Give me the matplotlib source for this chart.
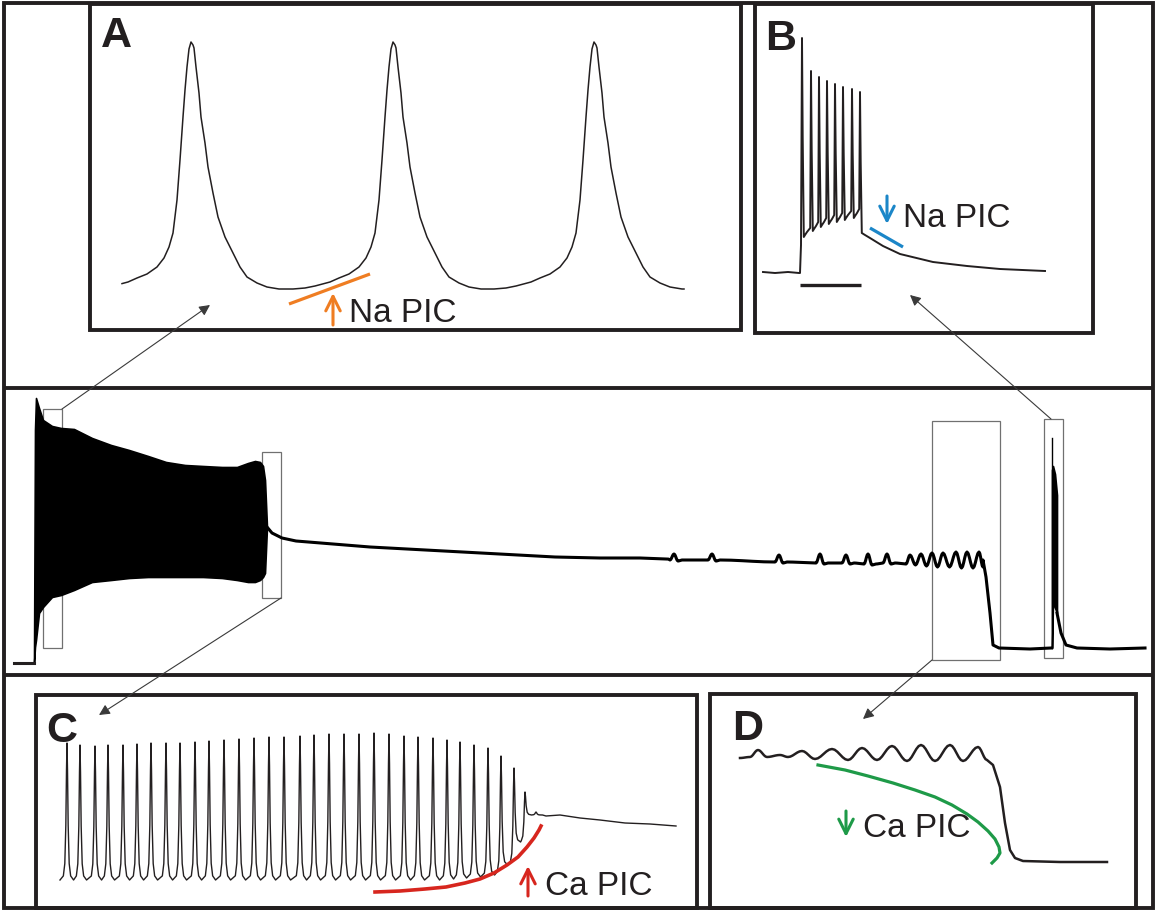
import numpy as np
import matplotlib.pyplot as plt
from matplotlib.patches import Rectangle

plt.rcParams['font.family'] = ['Liberation Sans', 'DejaVu Sans']

# --- trace data (figure pixel units, y downwards) ---

# A: three slow spikes, one spike shape re-used at each peak
a_peak_x = [191, 393, 594]
a_shape_dx = [-100, -88, -78, -63, -54, -44, -34, -27, -22, -18, -14, -11, -8, -6, -4, -2, 0,
              2, 3, 5, 8, 10, 14, 17, 22, 27, 34, 42, 49, 56, 66, 76, 88, 100]
a_shape_y = [289, 288, 286, 282, 278, 274, 267, 258, 247, 233, 200, 160, 117, 90, 67, 49, 42,
             45, 48, 67, 93, 117, 143, 167, 193, 217, 237, 253, 267, 277, 283, 287, 289, 289]
a_start, a_end = 122, 684

# B: step-evoked burst then slow decay
b_base_x = [763, 775, 788, 799]
b_base_y = [272, 273, 272, 273]
b_spike_x = [802, 811, 819, 827, 835, 843, 852, 860]
b_spike_peak = [38, 71, 77, 81, 84, 87, 89, 92]
b_trough = [237, 231, 227, 224, 222, 220, 218, 233]
b_decay_x = [865, 870, 883, 900, 933, 967, 1000, 1045]
b_decay_y = [235, 238, 246, 254, 262, 266, 269, 271]

# main recording: dense firing envelope, plateau, ripples, second burst
burst_x = [34, 35, 36, 39, 43, 52, 61, 74, 92, 111, 129, 148, 166, 185, 203, 222, 237, 248, 255, 260, 263, 265, 267]
burst_top = [663, 430, 398, 408, 420, 426, 428, 429, 438, 445, 450, 456, 462, 465, 466, 467, 467, 463, 461, 462, 466, 480, 527]
burst_bot = [663, 647, 640, 613, 607, 597, 595, 590, 582, 580, 578, 577, 577, 577, 577, 578, 580, 582, 582, 580, 577, 573, 527]
base_x = [14, 34]
base_y = [663, 663]
plateau_x = [267, 272, 282, 296, 333, 370, 407, 444, 481, 518, 555, 600, 640, 668]
plateau_y = [527, 533, 538, 541, 544, 547, 549, 551, 553, 555, 557, 558, 558, 559]
rip_x = [674, 712, 779, 820, 846, 868, 887, 910, 921, 932, 943, 956, 967, 979]
rip_top = [554, 554, 555, 554, 555, 554, 554, 555, 554, 553, 553, 552, 552, 552]
rip_bot = [561, 561, 563, 564, 564, 565, 564, 565, 566, 567, 567, 568, 568, 567]
drop_x = [983, 986, 990, 993, 999, 1030, 1051]
drop_y = [560, 577, 613, 645, 648, 649, 648]
burst2_x = [1052, 1053, 1055, 1057]
burst2_top = [470, 466, 474, 495]
burst2_bot = [648, 602, 608, 613]
burst2_spike = 438
decay2_x = [1057, 1061, 1066, 1077, 1110, 1145]
decay2_y = [613, 633, 645, 648, 649, 648]

# C: end of the firing (zoom of main), peaks shrink as Ca PIC ends
c_spike_x = [67, 80, 95, 108, 123, 137, 151, 166, 180, 195, 209, 224, 239, 254, 269, 284, 300,
             314, 329, 344, 359, 374, 389, 404, 418, 433, 447, 460, 474, 488, 501, 514, 525, 536]
c_spike_peak = [743, 745, 746, 745, 745, 744, 743, 743, 743, 742, 741, 740, 739, 738, 737, 737, 736,
                735, 734, 734, 734, 733, 734, 736, 737, 738, 740, 742, 745, 748, 756, 768, 792, 812]
c_trough = [880] * 26 + [879, 878, 877, 875, 865, 842, 815, 815]
c_start = (60, 880)
c_tail_x = [546, 560, 580, 600, 625, 650, 676]
c_tail_y = [816, 815, 818, 820, 823, 824, 826]

# D: ripples (alternating extrema) then the fall
d_rip_x = [740, 750, 758, 767, 780, 788, 802, 815, 832, 848, 862, 877, 892, 907, 921, 935, 950, 963, 978, 987]
d_rip_y = [758, 757, 750, 757, 755, 757, 751, 759, 749, 760, 748, 760, 746, 761, 745, 761, 745, 761, 747, 760]
d_fall_x = [993, 1000, 1005, 1010, 1015, 1023, 1060, 1107]
d_fall_y = [765, 787, 823, 850, 858, 861, 862, 862]

# PIC marker curves
red_x = [375, 400, 425, 446, 465, 480, 494, 507, 518, 527, 534, 539, 541]
red_y = [892, 891, 889, 887, 883, 879, 873, 865, 857, 847, 838, 830, 826]
green_x = [818, 845, 868, 893, 915, 935, 952, 967, 978, 988, 995, 999, 1000, 997, 992]
green_y = [765, 770, 776, 783, 790, 797, 805, 814, 822, 831, 839, 847, 853, 858, 863]

INK = '#231f20'
ORANGE = '#ef7d22'
BLUE = '#1b86c8'
RED = '#d7261e'
GREEN = '#1e9a48'


def rounded(xs, ys, n=6):
    # join successive extrema with half-cosine segments so peaks/troughs look rounded
    ox, oy = [xs[0]], [ys[0]]
    for x0, y0, x1, y1 in zip(xs[:-1], ys[:-1], xs[1:], ys[1:]):
        t = np.linspace(0, 1, n + 1)[1:]
        ox += list(x0 + (x1 - x0) * t)
        oy += list(y0 + (y1 - y0) * (1 - np.cos(np.pi * t)) / 2)
    return ox, oy


W, H = 1155, 911
fig = plt.figure(figsize=(W / 100, H / 100), dpi=100)
ax = fig.add_axes([0, 0, 1, 1])
ax.set_xlim(0, W)
ax.set_ylim(H, 0)
ax.axis('off')

# frames
for x0, y0, x1, y1 in [(4, 3, 1153, 908), (90, 4, 741, 330), (755, 4, 1093, 333),
                       (36, 695, 697, 908), (710, 694, 1136, 908)]:
    ax.add_patch(Rectangle((x0, y0), x1 - x0, y1 - y0, fill=False, ec=INK, lw=2.8))
for yy in [388, 675]:
    ax.plot([4, 1153], [yy, yy], color=INK, lw=2.8, solid_capstyle='butt')

# zoom boxes in the main trace
for x0, y0, x1, y1 in [(43, 409, 62, 648), (262, 452, 281, 598), (932, 421, 1000, 660), (1044, 419, 1063, 658)]:
    ax.add_patch(Rectangle((x0, y0), x1 - x0, y1 - y0, fill=False, ec='#707070', lw=0.9))

# connectors
for tail, tip in [((62, 409), (210, 305)), ((1051, 419), (910, 295)),
                  ((281, 598), (99, 715)), ((932, 660), (863, 719))]:
    ax.annotate('', xy=tip, xytext=tail,
                arrowprops=dict(arrowstyle='-|>', color='#3a3a3a', lw=0.8, mutation_scale=16,
                                shrinkA=0, shrinkB=0))

# --- A ---
ax_x, ax_y = [], []
for p in a_peak_x:
    ax_x += [p + d for d in a_shape_dx]
    ax_y += a_shape_y
ax_x, ax_y = np.array(ax_x), np.array(ax_y)
keep = (ax_x > a_start) & (ax_x < a_end)
ax.plot(np.r_[a_start, ax_x[keep], a_end],
        np.r_[np.interp(a_start, ax_x, ax_y), ax_y[keep], np.interp(a_end, ax_x, ax_y)],
        color=INK, lw=1.1, solid_joinstyle='round')

# --- B ---
bx, by = list(b_base_x) + [800, 801], list(b_base_y) + [273, 245]
prev = 240
for i, (x, p) in enumerate(zip(b_spike_x, b_spike_peak)):
    if i > 0:
        bx += [b_spike_x[i - 1] + 3, b_spike_x[i - 1] + 5, x - 0.8]
        by += [prev - 2, prev - 5, prev - 9]
    tr = b_trough[i]
    bx += [x, x + 0.7, x + 1.8]
    by += [p, (p + tr) / 2, tr]
    prev = tr
bx += b_decay_x
by += b_decay_y
ax.plot(bx, by, color=INK, lw=1.4)
ax.plot([800, 861], [285, 285], color=INK, lw=2.4, solid_capstyle='butt')

# --- main recording ---
ax.plot(base_x, base_y, color=INK, lw=2.2)
ax.fill_between(burst_x, burst_top, burst_bot, color='black', lw=1.2, edgecolor='black')
ex, ey = [plateau_x[-1]], [plateau_y[-1]]
for i, (x, t, b) in enumerate(zip(rip_x, rip_top, rip_bot)):
    isolated = i == 0 or x - rip_x[i - 1] > 15
    if isolated:
        ex.append(x - 4)
        ey.append(b - 1)
    ex += [x, x + 4 if (i == len(rip_x) - 1 or rip_x[i + 1] - x > 15) else (x + rip_x[i + 1]) / 2]
    ey += [t, b]
    if i < len(rip_x) - 1 and rip_x[i + 1] - x > 15:
        ex.append(x + 8)
        ey.append(b - 1)
rx, ry = rounded(ex, ey, 5)
mx = list(plateau_x) + rx[1:] + drop_x
my = list(plateau_y) + ry[1:] + drop_y
ax.plot(mx, my, color='black', lw=2.2, solid_joinstyle='round')
ax.fill_between(burst2_x, burst2_top, burst2_bot, color='black', lw=1.2, edgecolor='black')
ax.plot([burst2_x[0], burst2_x[0]], [burst2_bot[0], burst2_spike], color='black', lw=1.0)
ax.plot(decay2_x, decay2_y, color='black', lw=2.2)

# --- C ---
rise = [(-0.5, 0.03), (-0.3, 0.12), (-0.16, 0.4), (-0.07, 0.8)]
fall = [(0.07, 0.8), (0.16, 0.4), (0.3, 0.12), (0.5, 0.03)]
half = 7.3
cx, cy = [c_start[0]], [c_start[1]]
before = c_start[1]
for i, (x, p) in enumerate(zip(c_spike_x, c_spike_peak)):
    after = c_trough[i]
    for f, h in rise:
        cx.append(x + f * half)
        cy.append(before - h * (before - p))
    cx.append(x)
    cy.append(p)
    for f, h in fall:
        cx.append(x + f * half)
        cy.append(after - h * (after - p))
    cx.append(x + 0.9 * half)
    cy.append(after)
    before = after
cx += c_tail_x
cy += c_tail_y
ax.plot(cx, cy, color=INK, lw=1.0)

# --- D ---
dx_, dy_ = rounded(d_rip_x, d_rip_y, 6)
ax.plot(dx_ + d_fall_x, dy_ + d_fall_y, color=INK, lw=1.8, solid_joinstyle='round')

# PIC marks
ax.plot([289, 370], [304, 274], color=ORANGE, lw=2.3, solid_capstyle='butt')
ax.plot([870, 903], [228, 247], color=BLUE, lw=2.3, solid_capstyle='butt')
ax.plot(red_x, red_y, color=RED, lw=2.6)
ax.plot(green_x, green_y, color=GREEN, lw=2.3)
for tail, tip, col in [((333, 325), (333, 293), ORANGE), ((887, 196), (887, 224), BLUE),
                       ((528, 896), (528, 866), RED), ((846, 811), (846, 837), GREEN)]:
    ax.annotate('', xy=tip, xytext=tail,
                arrowprops=dict(arrowstyle='->', color=col, lw=2.2, mutation_scale=26,
                                shrinkA=0, shrinkB=0))

for x, y, s in [(349, 322, 'Na PIC'), (903, 227, 'Na PIC'), (545, 895, 'Ca PIC'), (863, 837, 'Ca PIC')]:
    ax.text(x, y, s, fontsize=24, color=INK, va='baseline', ha='left')

for x, y, s in [(101, 47, 'A'), (765, 50, 'B'), (46, 742, 'C'), (732, 740, 'D')]:
    ax.text(x, y, s, fontsize=31, fontweight='bold', color=INK, va='baseline', ha='left')

fig.savefig('out.png', dpi=100)
